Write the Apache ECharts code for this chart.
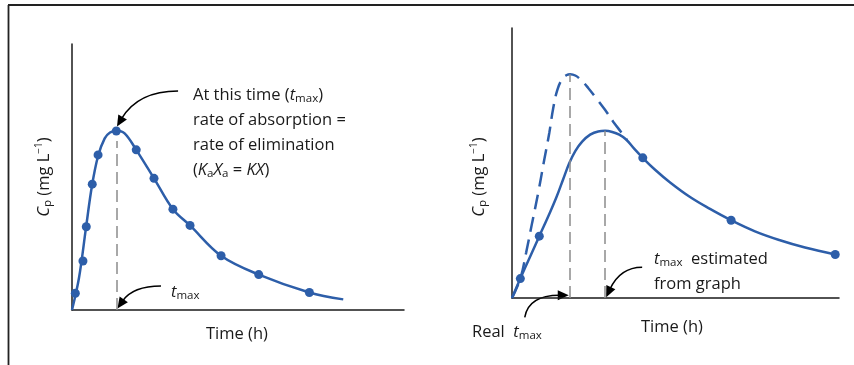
<!DOCTYPE html>
<html>
<head>
<meta charset="utf-8">
<script src="https://cdn.jsdelivr.net/npm/echarts@6/dist/echarts.min.js"></script>
<style>
  html, body { margin: 0; padding: 0; background: #ffffff; }
  #chart { width: 854px; height: 365px; }
</style>
</head>
<body>
<div id="chart"></div>
<script>
// Oral-dose plasma concentration profiles (time in h, Cp in mg/L, arbitrary scale)

// Left panel: sampled profile and smooth fitted curve
const leftSamples = [
  [0.20, 0.63], [0.66, 1.84], [0.86, 3.13], [1.22, 4.73], [1.57, 5.83],
  [2.67, 6.73], [3.87, 6.02], [4.94, 4.95], [6.08, 3.79], [7.11, 3.18],
  [8.98, 2.04], [11.25, 1.33], [14.30, 0.66]
];
const leftCurve = [
  [0, 0], [0.42, 1.20], [0.84, 3.08], [1.20, 4.66], [1.57, 5.79],
  [1.97, 6.45], [2.29, 6.67], [2.67, 6.74], [3.17, 6.64], [3.87, 6.02],
  [4.94, 4.95], [6.08, 3.79], [7.11, 3.18], [8.98, 2.04], [11.25, 1.33],
  [14.30, 0.66], [16.34, 0.40]
];
const leftTmax = 2.67;
const leftTmaxTop = 6.35;

// Right panel: sparse sampling, curve drawn through the samples, and the true profile
const rightSamples = [
  [0.51, 0.72], [1.67, 2.29], [8.00, 5.19], [13.40, 2.88], [19.77, 1.61]
];
const rightCurve = [
  [0, 0], [0.51, 0.72], [1.12, 1.55], [1.67, 2.29], [2.22, 3.03],
  [2.71, 3.72], [3.13, 4.40], [3.50, 4.99], [3.87, 5.44], [4.29, 5.79],
  [4.78, 6.05], [5.27, 6.17], [5.70, 6.19], [6.13, 6.15], [6.56, 6.05],
  [6.98, 5.87], [7.47, 5.53], [8.00, 5.19], [8.75, 4.75], [9.67, 4.28],
  [10.89, 3.74], [12.11, 3.30], [13.40, 2.88], [14.86, 2.47], [16.39, 2.14],
  [17.92, 1.87], [19.77, 1.61]
];
const rightTrueCurve = [
  [0, 0], [0.51, 0.72], [0.87, 1.69], [1.24, 2.81], [1.61, 3.92],
  [1.97, 5.11], [2.28, 6.11], [2.52, 7.03], [2.77, 7.70], [3.07, 8.11],
  [3.35, 8.26], [3.56, 8.29], [3.87, 8.24], [4.23, 8.07], [4.66, 7.78],
  [5.15, 7.40], [5.70, 6.96], [6.19, 6.53], [6.68, 6.14], [7.04, 5.85]
];
const realTmax = [3.56, 8.29];
const estTmax = [5.70, 6.19];

// Curved call-out arrows: [gridIndex, start, control, tip]
const arrows = [
  [0, [6.39, 8.23], [3.98, 8.23], [2.71, 6.90]],
  [0, [5.36, 0.90], [3.67, 0.90], [2.74, 0.06]],
  [1, [0.78, -0.72], [1.00, 0.10], [3.47, 0.10]],
  [1, [7.96, 1.14], [6.62, 1.14], [5.76, 0.03]]
];

const BLUE = '#2d5ea9';
const INK = '#1a1a1a';
const FONT = '"Open Sans", "Noto Sans", sans-serif';
const FS = 16.5;

const rich = {
  i: { fontStyle: 'italic', fontSize: FS, fontFamily: FONT, color: INK, lineHeight: 20 },
  sub: { fontSize: 11.5, fontFamily: FONT, color: INK, lineHeight: 10, verticalAlign: 'bottom' },
  sup: { fontSize: 10, fontFamily: FONT, color: INK, lineHeight: 10, verticalAlign: 'top' }
};

function label(text, x, y, opts) {
  return Object.assign({
    type: 'text', x: x, y: y, silent: true,
    style: {
      text: text, rich: rich, fill: INK,
      font: FS + 'px ' + FONT, lineHeight: 20,
      align: 'left', verticalAlign: 'middle'
    }
  }, opts || {});
}

function axisPair(gridIndex) {
  const line = { show: true, onZero: false, lineStyle: { color: INK, width: 1.5 } };
  return {
    x: { type: 'value', gridIndex: gridIndex, min: 0, max: 20, axisLine: line,
         axisTick: { show: false }, axisLabel: { show: false }, splitLine: { show: false } },
    y: { type: 'value', gridIndex: gridIndex, min: 0, max: 10, axisLine: line,
         axisTick: { show: false }, axisLabel: { show: false }, splitLine: { show: false } }
  };
}
const a0 = axisPair(0), a1 = axisPair(1);

const guide = {
  silent: true, symbol: ['none', 'none'], label: { show: false },
  lineStyle: { color: '#8c8c8c', width: 1.5, type: [12, 6] }
};

const chart = echarts.init(document.getElementById('chart'), null, { renderer: 'canvas' });

const texts = [
  label('At this time ({i|t}{sub|max})', 193, 95),
  label('rate of absorption =', 193, 120),
  label('rate of elimination', 193, 145),
  label('({i|K}{sub|a}{i|X}{sub|a} = {i|KX})', 193, 170),
  label('{i|t}{sub|max}', 171, 292),
  label('Time (h)', 237, 334),
  label('{i|C}{sub|p} (mg L{sup|\u22121})', 44, 177, { rotation: Math.PI / 2 }),
  label('{i|t}{sub|max}  estimated', 654, 259),
  label('from graph', 654, 284),
  label('Real  {i|t}{sub|max}', 472, 332),
  label('Time (h)', 672, 327),
  label('{i|C}{sub|p} (mg L{sup|\u22121})', 479, 177, { rotation: Math.PI / 2 })
];
[5, 6, 10, 11].forEach(function (k) { texts[k].style.align = 'center'; });

const frame = [
  { type: 'line', silent: true, shape: { x1: 8, y1: 5, x2: 854, y2: 5 }, style: { stroke: '#222', lineWidth: 1.8 } },
  { type: 'line', silent: true, shape: { x1: 8.5, y1: 5, x2: 8.5, y2: 365 }, style: { stroke: '#222', lineWidth: 1.8 } }
];

chart.setOption({
  animation: false,
  backgroundColor: '#ffffff',
  grid: [
    { left: 72, top: 44, width: 332, height: 266 },
    { left: 512, top: 28, width: 327, height: 270 }
  ],
  xAxis: [a0.x, a1.x],
  yAxis: [a0.y, a1.y],
  series: [
    {
      type: 'line', xAxisIndex: 0, yAxisIndex: 0, data: leftCurve, smooth: 0.35,
      showSymbol: false, lineStyle: { color: BLUE, width: 2.5 }, z: 3,
      markLine: Object.assign({ data: [[{ coord: [leftTmax, 0] }, { coord: [leftTmax, leftTmaxTop] }]] }, guide)
    },
    {
      type: 'scatter', xAxisIndex: 0, yAxisIndex: 0, data: leftSamples,
      symbolSize: 9, itemStyle: { color: BLUE, opacity: 1 }, z: 4
    },
    {
      type: 'line', xAxisIndex: 1, yAxisIndex: 1, data: rightTrueCurve, smooth: 0.4,
      showSymbol: false, lineStyle: { color: BLUE, width: 2.5, type: [15, 8] }, z: 3,
      markLine: Object.assign({ data: [
        [{ coord: [realTmax[0], 0] }, { coord: realTmax }],
        [{ coord: [estTmax[0], 0] }, { coord: estTmax }]
      ] }, guide)
    },
    {
      type: 'line', xAxisIndex: 1, yAxisIndex: 1, data: rightCurve, smooth: 0.4,
      showSymbol: false, lineStyle: { color: BLUE, width: 2.5 }, z: 3
    },
    {
      type: 'scatter', xAxisIndex: 1, yAxisIndex: 1, data: rightSamples,
      symbolSize: 9, itemStyle: { color: BLUE, opacity: 1 }, z: 4
    }
  ]
});

// Build the call-out arrows in pixel space from their data anchors
function arrowGraphics() {
  const out = [];
  arrows.forEach(function (a) {
    const f = { gridIndex: a[0] };
    const p0 = chart.convertToPixel(f, a[1]);
    const c = chart.convertToPixel(f, a[2]);
    const p1 = chart.convertToPixel(f, a[3]);
    let dx = p1[0] - c[0], dy = p1[1] - c[1];
    const len = Math.sqrt(dx * dx + dy * dy) || 1;
    dx /= len; dy /= len;
    const L = 11, W = 5;
    const bx = p1[0] - dx * L, by = p1[1] - dy * L;
    out.push({
      type: 'bezierCurve', silent: true,
      shape: { x1: p0[0], y1: p0[1], cpx1: c[0], cpy1: c[1], x2: bx + dx * 2, y2: by + dy * 2 },
      style: { stroke: '#000', lineWidth: 1.5, fill: null }
    });
    out.push({
      type: 'polygon', silent: true,
      shape: { points: [p1, [bx - dy * W, by + dx * W], [bx + dy * W, by - dx * W]] },
      style: { fill: '#000' }
    });
  });
  return out;
}

chart.setOption({ graphic: frame.concat(texts, arrowGraphics()) });
</script>
</body>
</html>
